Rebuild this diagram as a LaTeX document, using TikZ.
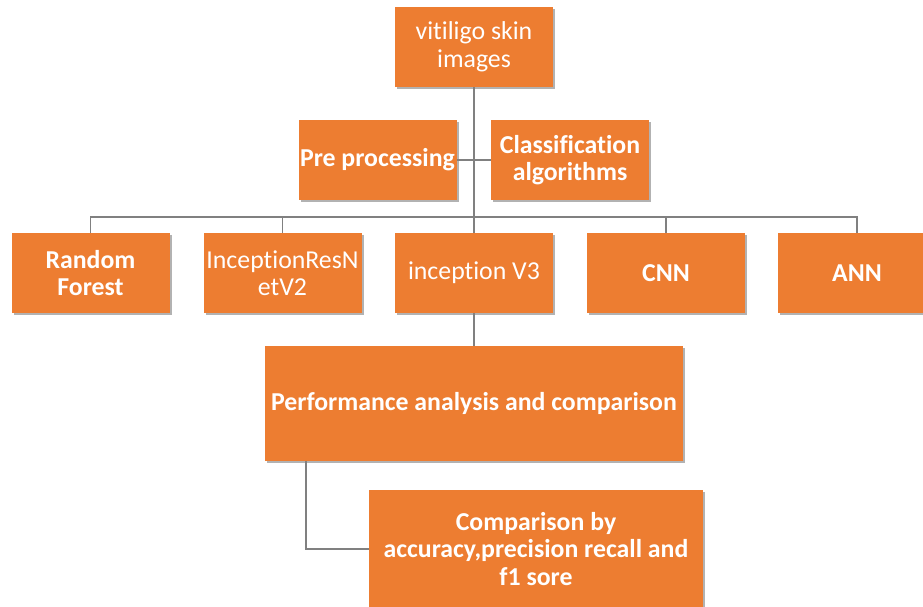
\documentclass[tikz,border=0pt]{standalone}
\usepackage{fontspec}
\setmainfont[Ligatures=NoCommon]{Carlito}
\usepackage{tikz}
\usetikzlibrary{
    positioning,
    calc,
    shadows
}
\usepackage{xcolor}
\definecolor{boxorange}{RGB}{237,125,49}
\definecolor{linegray}{RGB}{128,128,128}
\newcommand{\boxfont}{\fontsize{25.8}{27.5}\selectfont}

\begin{document}
\begin{tikzpicture}[
    x=1pt, y=-1pt,
    box/.style={
        rectangle, fill=boxorange, text=white, inner sep=0pt,
        minimum width=158pt, minimum height=80pt,
        align=center, font=\boxfont,
        drop shadow={shadow xshift=2pt, shadow yshift=-2pt, opacity=0.3, fill=black}
    },
    boldbox/.style={box, font=\boxfont\bfseries},
    link/.style={draw=linegray, line width=1.4pt}
]
\useasboundingbox (0,0) rectangle (923,606);

% Top of the tree
\node[box] (images) at (474, 47) {vitiligo skin\\images};

% Second level
\node[boldbox] (prep)    at (377.5, 160) {Pre processing};
\node[boldbox] (classif) at (570, 160) {Classification\\algorithms};

% Algorithms (y=273)
\node[boldbox] (rf)     at (90.5, 273)  {Random\\Forest};
\node[box]     (resnet) at (282.5, 273) {InceptionResN\\etV2};
\node[box]     (incv3)  at (474, 273)   {inception V3};
\node[boldbox] (cnn)    at (666, 273)   {CNN};
\node[boldbox] (ann)    at (857, 273)   {ANN};

% Analysis
\node[boldbox, minimum width=418pt, minimum height=115pt]
    (perf) at (474, 403.5) {Performance analysis and comparison};
\node[boldbox, minimum width=334pt, minimum height=118pt]
    (comp) at (536, 549) {Comparison by\\accuracy,precision recall and\\f1 sore};

% Connectors
\coordinate (bus) at (474, 217);
\draw[link] (images.south) -- (incv3.north);
\draw[link] (prep.east) -- (classif.west);
\draw[link] (rf.north) |- (bus) -| (ann.north);
\draw[link] (resnet.north) |- (bus);
\draw[link] (cnn.north) |- (bus);
\draw[link] (incv3.south) -- (perf.north);
\draw[link] ([xshift=41pt]perf.south west) |- (comp.west);

\end{tikzpicture}
\end{document}
